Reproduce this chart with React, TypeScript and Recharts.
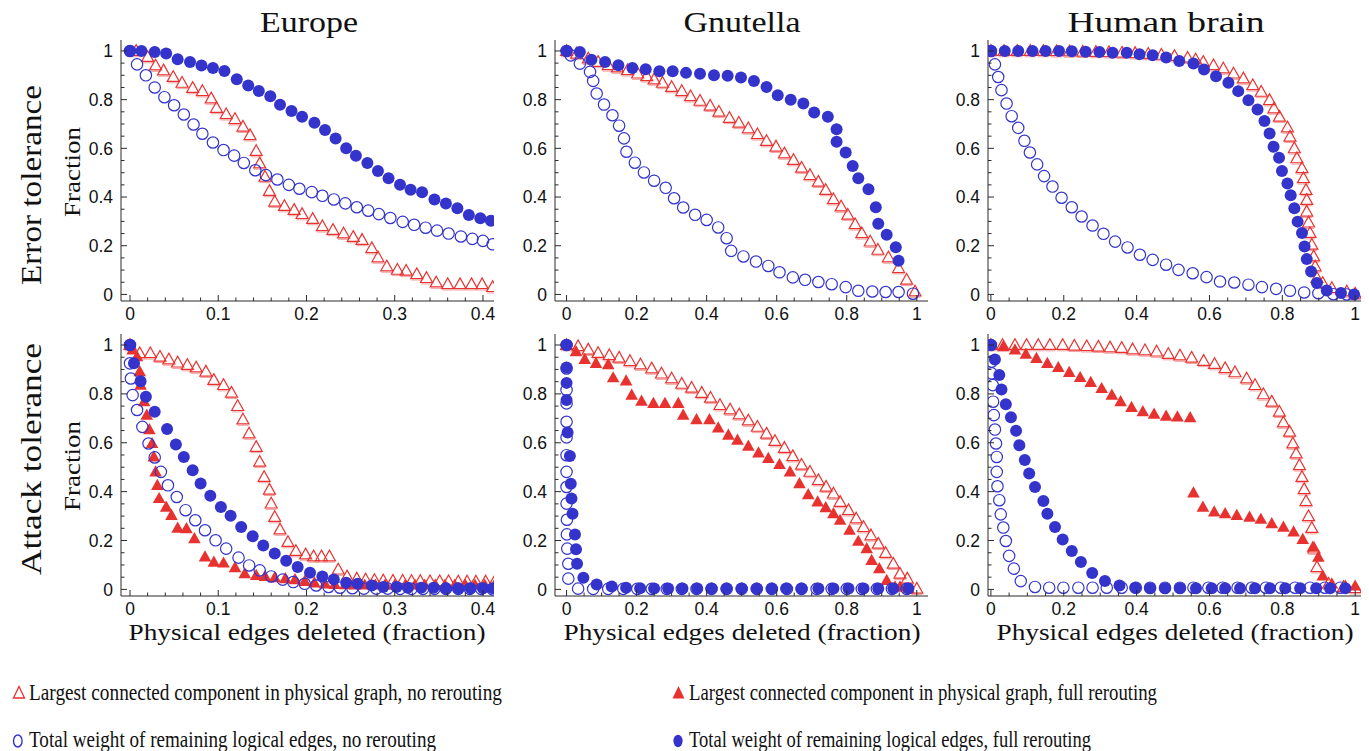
import React from 'react';
import { ScatterChart, Scatter, XAxis, YAxis } from 'recharts';

type Pt = [number, number];

const RED = '#e8322f';
const BLUE = '#3434cc';
const FRAME = '#2a2a2a';
const SERIF = '"Liberation Serif", "DejaVu Serif", serif';
const SANS = '"Liberation Sans", Arial, sans-serif';

// ---------- Europe, error tolerance
const euErrLccNo: Pt[] = [
  [0.007, 1.0], [0.02, 0.975], [0.029, 0.94], [0.038, 0.92], [0.049, 0.893], [0.059, 0.869], [0.071, 0.848],
  [0.082, 0.835], [0.092, 0.805], [0.098, 0.766], [0.109, 0.74], [0.119, 0.72], [0.128, 0.689], [0.136, 0.654],
  [0.143, 0.589], [0.147, 0.538], [0.153, 0.483], [0.158, 0.425], [0.164, 0.381], [0.175, 0.363], [0.186, 0.347],
  [0.195, 0.33], [0.207, 0.31], [0.218, 0.28], [0.23, 0.265], [0.242, 0.25], [0.253, 0.236], [0.263, 0.224],
  [0.274, 0.19], [0.281, 0.152], [0.291, 0.115], [0.303, 0.101], [0.313, 0.097], [0.325, 0.083], [0.336, 0.067],
  [0.347, 0.049], [0.36, 0.042], [0.374, 0.042], [0.387, 0.042], [0.399, 0.042], [0.411, 0.03],
];
const euErrWNo: Pt[] = [
  [0, 1.0], [0.008, 0.945], [0.018, 0.9], [0.028, 0.85], [0.039, 0.81], [0.05, 0.777], [0.061, 0.739],
  [0.072, 0.698], [0.082, 0.66], [0.094, 0.624], [0.106, 0.593], [0.118, 0.57], [0.129, 0.54], [0.142, 0.51],
  [0.154, 0.49], [0.167, 0.472], [0.18, 0.45], [0.192, 0.434], [0.206, 0.42], [0.218, 0.405], [0.231, 0.39],
  [0.244, 0.374], [0.257, 0.358], [0.27, 0.344], [0.282, 0.33], [0.295, 0.314], [0.309, 0.298], [0.322, 0.286],
  [0.335, 0.274], [0.348, 0.262], [0.361, 0.25], [0.375, 0.238], [0.388, 0.228], [0.4, 0.22], [0.411, 0.206],
];
const euErrWFull: Pt[] = [
  [0, 1.0], [0.013, 1.0], [0.028, 0.996], [0.041, 0.99], [0.054, 0.966], [0.068, 0.955], [0.081, 0.94],
  [0.094, 0.93], [0.107, 0.918], [0.121, 0.884], [0.134, 0.858], [0.146, 0.836], [0.159, 0.814], [0.17, 0.779],
  [0.183, 0.753], [0.195, 0.73], [0.209, 0.705], [0.221, 0.675], [0.233, 0.64], [0.245, 0.6], [0.256, 0.57],
  [0.269, 0.54], [0.281, 0.507], [0.293, 0.477], [0.306, 0.45], [0.318, 0.43], [0.331, 0.42], [0.345, 0.39],
  [0.358, 0.373], [0.371, 0.354], [0.384, 0.326], [0.397, 0.313], [0.409, 0.303],
];

// ---------- Gnutella, error tolerance
const gnErrLccNo: Pt[] = [
  [0, 1.0], [0.029, 0.989], [0.062, 0.969], [0.09, 0.955], [0.119, 0.941], [0.145, 0.932], [0.174, 0.921],
  [0.203, 0.907], [0.229, 0.896], [0.25, 0.883], [0.274, 0.869], [0.3, 0.852], [0.329, 0.835], [0.354, 0.814],
  [0.381, 0.795], [0.41, 0.775], [0.435, 0.75], [0.465, 0.725], [0.492, 0.705], [0.519, 0.682], [0.545, 0.658],
  [0.571, 0.63], [0.598, 0.607], [0.622, 0.579], [0.648, 0.552], [0.671, 0.52], [0.695, 0.49], [0.719, 0.463],
  [0.74, 0.429], [0.762, 0.391], [0.784, 0.361], [0.803, 0.327], [0.824, 0.288], [0.843, 0.251], [0.867, 0.217],
  [0.889, 0.183], [0.919, 0.152], [0.948, 0.108], [0.971, 0.06], [0.995, 0.012],
];
const gnErrWNo: Pt[] = [
  [0, 1.0], [0.012, 0.982], [0.038, 0.948], [0.067, 0.914], [0.076, 0.877], [0.086, 0.825], [0.107, 0.78],
  [0.131, 0.736], [0.15, 0.693], [0.164, 0.641], [0.171, 0.586], [0.195, 0.541], [0.221, 0.501], [0.25, 0.467],
  [0.283, 0.438], [0.307, 0.395], [0.333, 0.357], [0.367, 0.327], [0.4, 0.306], [0.433, 0.275], [0.457, 0.231],
  [0.47, 0.179], [0.505, 0.156], [0.541, 0.135], [0.576, 0.117], [0.608, 0.091], [0.646, 0.07], [0.681, 0.06],
  [0.719, 0.051], [0.757, 0.042], [0.797, 0.03], [0.833, 0.015], [0.873, 0.012], [0.911, 0.01], [0.948, 0.01],
  [0.989, 0.003],
];
const gnErrWFull: Pt[] = [
  [0, 1.0], [0.038, 0.996], [0.071, 0.964], [0.11, 0.955], [0.148, 0.941], [0.188, 0.93], [0.226, 0.925],
  [0.265, 0.917], [0.303, 0.917], [0.341, 0.91], [0.381, 0.906], [0.421, 0.9], [0.46, 0.898], [0.498, 0.891],
  [0.535, 0.877], [0.571, 0.852], [0.603, 0.818], [0.64, 0.8], [0.676, 0.784], [0.707, 0.747], [0.746, 0.73],
  [0.771, 0.678], [0.771, 0.627], [0.797, 0.583], [0.817, 0.527], [0.833, 0.477], [0.862, 0.432], [0.883, 0.358],
  [0.89, 0.29], [0.914, 0.245], [0.94, 0.194], [0.948, 0.138],
];

// ---------- Human brain, error tolerance
const huErrLccNo: Pt[] = [
  [0, 1.0], [0.036, 1.0], [0.072, 1.0], [0.108, 1.0], [0.144, 1.0], [0.18, 0.999], [0.216, 0.998],
  [0.252, 0.997], [0.288, 0.996], [0.324, 0.995], [0.36, 0.993], [0.396, 0.991], [0.432, 0.988], [0.468, 0.984],
  [0.504, 0.979], [0.54, 0.972], [0.562, 0.965], [0.583, 0.955], [0.611, 0.941], [0.638, 0.928], [0.666, 0.907],
  [0.693, 0.887], [0.719, 0.859], [0.742, 0.832], [0.765, 0.798], [0.777, 0.764], [0.792, 0.73], [0.814, 0.686],
  [0.821, 0.648], [0.833, 0.6], [0.84, 0.559], [0.854, 0.518], [0.858, 0.477], [0.865, 0.429], [0.867, 0.388],
  [0.867, 0.34], [0.872, 0.295], [0.876, 0.252], [0.881, 0.204], [0.886, 0.156], [0.89, 0.115], [0.895, 0.067],
  [0.911, 0.047], [0.936, 0.026], [0.977, 0.012], [1.0, 0.003],
];
const huErrWNo: Pt[] = [
  [0, 1.0], [0.011, 0.945], [0.02, 0.893], [0.029, 0.839], [0.043, 0.784], [0.057, 0.732], [0.075, 0.684],
  [0.092, 0.631], [0.107, 0.583], [0.127, 0.534], [0.146, 0.486], [0.169, 0.443], [0.194, 0.397], [0.222, 0.358],
  [0.249, 0.32], [0.279, 0.283], [0.309, 0.249], [0.341, 0.217], [0.375, 0.193], [0.409, 0.163], [0.444, 0.142],
  [0.481, 0.122], [0.515, 0.101], [0.554, 0.087], [0.592, 0.071], [0.629, 0.053], [0.668, 0.049], [0.707, 0.04],
  [0.744, 0.03], [0.783, 0.023], [0.821, 0.015], [0.86, 0.008], [0.899, 0.005], [0.94, 0.001], [0.977, 0],
];
const huErrWFull: Pt[] = [
  [0, 1.0], [0.038, 1.0], [0.075, 1.0], [0.114, 1.0], [0.15, 1.0], [0.187, 1.0], [0.222, 0.999], [0.26, 0.997],
  [0.298, 0.996], [0.334, 0.993], [0.373, 0.993], [0.408, 0.986], [0.444, 0.982], [0.481, 0.973], [0.517, 0.959],
  [0.556, 0.948], [0.585, 0.924], [0.618, 0.896], [0.652, 0.869], [0.679, 0.835], [0.707, 0.798], [0.732, 0.76],
  [0.751, 0.712], [0.765, 0.661], [0.776, 0.607], [0.791, 0.561], [0.799, 0.507], [0.814, 0.456], [0.823, 0.407],
  [0.833, 0.354], [0.842, 0.299], [0.854, 0.252], [0.861, 0.197], [0.867, 0.145], [0.879, 0.094], [0.895, 0.047],
  [0.922, 0.016], [0.961, 0.006], [0.997, 0.0],
];

// ---------- Europe, attack tolerance
const euAtkLccNo: Pt[] = [
  [0, 1.0], [0.011, 0.966], [0.023, 0.966], [0.034, 0.952], [0.044, 0.941], [0.054, 0.928], [0.065, 0.918],
  [0.075, 0.908], [0.086, 0.891], [0.095, 0.857], [0.106, 0.836], [0.115, 0.805], [0.122, 0.75], [0.128, 0.695],
  [0.135, 0.638], [0.143, 0.583], [0.147, 0.522], [0.152, 0.46], [0.158, 0.408], [0.16, 0.351], [0.164, 0.296],
  [0.17, 0.245], [0.179, 0.194], [0.188, 0.157], [0.199, 0.143], [0.208, 0.135], [0.217, 0.135], [0.226, 0.135],
  [0.236, 0.081], [0.246, 0.053], [0.257, 0.044], [0.267, 0.04], [0.277, 0.038], [0.287, 0.036], [0.298, 0.035],
  [0.309, 0.035], [0.319, 0.034], [0.329, 0.034], [0.34, 0.033], [0.351, 0.033], [0.361, 0.033], [0.372, 0.032],
  [0.382, 0.032], [0.392, 0.032], [0.403, 0.032], [0.413, 0.031],
];
const euAtkLccFull: Pt[] = [
  [0, 1.0], [0.003, 0.98], [0.008, 0.952], [0.011, 0.891], [0.012, 0.836], [0.016, 0.768], [0.019, 0.713],
  [0.022, 0.654], [0.025, 0.597], [0.027, 0.542], [0.029, 0.481], [0.031, 0.426], [0.033, 0.372], [0.041, 0.337],
  [0.047, 0.303], [0.054, 0.251], [0.064, 0.249], [0.073, 0.208], [0.085, 0.133], [0.095, 0.112], [0.106, 0.108],
  [0.119, 0.089], [0.13, 0.064], [0.143, 0.057], [0.153, 0.053], [0.164, 0.048], [0.176, 0.044], [0.187, 0.04],
  [0.198, 0.033], [0.209, 0.027], [0.221, 0.023], [0.232, 0.02], [0.244, 0.019], [0.255, 0.018], [0.266, 0.018],
  [0.278, 0.018], [0.289, 0.018], [0.3, 0.018], [0.312, 0.018], [0.323, 0.018], [0.334, 0.018], [0.346, 0.018],
  [0.357, 0.018], [0.368, 0.018], [0.38, 0.018], [0.391, 0.018], [0.402, 0.018], [0.413, 0.018],
];
const euAtkWNo: Pt[] = [
  [0, 1.0], [0, 0.925], [0.001, 0.863], [0.003, 0.795], [0.008, 0.734], [0.014, 0.665], [0.021, 0.597],
  [0.028, 0.54], [0.035, 0.481], [0.043, 0.426], [0.053, 0.378], [0.063, 0.324], [0.074, 0.283], [0.085, 0.242],
  [0.097, 0.201], [0.109, 0.167], [0.123, 0.13], [0.135, 0.098], [0.147, 0.078], [0.16, 0.053], [0.173, 0.04],
  [0.185, 0.03], [0.198, 0.023], [0.211, 0.016], [0.225, 0.01], [0.238, 0.007], [0.252, 0.005], [0.265, 0.003],
  [0.279, 0.003], [0.292, 0.003], [0.306, 0.002], [0.319, 0.002], [0.332, 0.002], [0.345, 0.002], [0.358, 0.002],
  [0.372, 0.002], [0.385, 0.002], [0.398, 0.002], [0.411, 0.0],
];
const euAtkWFull: Pt[] = [
  [0, 1.0], [0.0045, 0.925], [0.012, 0.852], [0.018, 0.788], [0.028, 0.727], [0.042, 0.656], [0.052, 0.593],
  [0.061, 0.542], [0.071, 0.488], [0.08, 0.433], [0.091, 0.383], [0.103, 0.337], [0.114, 0.301], [0.126, 0.255],
  [0.139, 0.217], [0.151, 0.18], [0.164, 0.147], [0.177, 0.117], [0.19, 0.092], [0.204, 0.068], [0.218, 0.053],
  [0.231, 0.041], [0.245, 0.027], [0.258, 0.023], [0.274, 0.016], [0.287, 0.01], [0.302, 0.01], [0.315, 0.007],
  [0.33, 0.007], [0.344, 0.007], [0.358, 0.005], [0.372, 0.005], [0.386, 0.005], [0.4, 0.005], [0.411, 0.005],
];

// ---------- Gnutella, attack tolerance
const gnAtkLccNo: Pt[] = [
  [0, 1.0], [0.033, 0.995], [0.062, 0.981], [0.09, 0.967], [0.122, 0.958], [0.15, 0.948], [0.181, 0.934],
  [0.211, 0.92], [0.243, 0.904], [0.271, 0.883], [0.3, 0.863], [0.329, 0.841], [0.357, 0.825], [0.386, 0.804],
  [0.411, 0.784], [0.438, 0.754], [0.467, 0.736], [0.493, 0.716], [0.519, 0.691], [0.545, 0.665], [0.571, 0.637],
  [0.595, 0.607], [0.622, 0.579], [0.646, 0.545], [0.671, 0.51], [0.695, 0.481], [0.719, 0.447], [0.741, 0.42],
  [0.762, 0.392], [0.781, 0.358], [0.805, 0.324], [0.827, 0.29], [0.848, 0.255], [0.869, 0.221], [0.89, 0.187],
  [0.911, 0.149], [0.933, 0.105], [0.952, 0.064], [0.973, 0.044], [1.0, 0.003],
];
const gnAtkLccFull: Pt[] = [
  [0, 1.0], [0.027, 0.973], [0.052, 0.941], [0.084, 0.925], [0.119, 0.92], [0.133, 0.866], [0.17, 0.853],
  [0.186, 0.795], [0.214, 0.77], [0.248, 0.761], [0.281, 0.761], [0.319, 0.761], [0.333, 0.713], [0.371, 0.695],
  [0.408, 0.695], [0.433, 0.661], [0.462, 0.631], [0.488, 0.611], [0.519, 0.586], [0.548, 0.559], [0.576, 0.536],
  [0.608, 0.511], [0.638, 0.481], [0.665, 0.433], [0.69, 0.388], [0.717, 0.358], [0.74, 0.335], [0.762, 0.31],
  [0.781, 0.283], [0.808, 0.242], [0.833, 0.197], [0.857, 0.167], [0.871, 0.119], [0.893, 0.085], [0.914, 0.037],
  [0.938, 0.01], [0.952, 0.01], [0.976, 0.003],
];
const gnAtkWNo: Pt[] = [
  [0, 1.0], [0, 0.904], [0, 0.816], [0, 0.761], [0, 0.686], [0, 0.622], [0, 0.549], [0, 0.481], [0, 0.419],
  [0, 0.351], [0.001, 0.285], [0.001, 0.225], [0.002, 0.167], [0.005, 0.105], [0.005, 0.044], [0.033, 0.003],
  [0.076, 0.002], [0.119, 0.002], [0.162, 0.002], [0.202, 0.002], [0.243, 0.002], [0.286, 0.002], [0.329, 0.002],
  [0.371, 0.002], [0.414, 0.002], [0.457, 0.002], [0.5, 0.002], [0.543, 0.002], [0.586, 0.002], [0.629, 0.002],
  [0.671, 0.002], [0.714, 0.002], [0.757, 0.002], [0.8, 0.002], [0.843, 0.002], [0.886, 0.002], [0.929, 0.002],
  [0.971, 0.002],
];
const gnAtkWFull: Pt[] = [
  [0, 1.0], [0, 0.908], [0, 0.845], [0, 0.775], [0.003, 0.642], [0.0095, 0.546], [0.012, 0.432], [0.014, 0.372],
  [0.017, 0.31], [0.024, 0.225], [0.027, 0.164], [0.03, 0.105], [0.048, 0.048], [0.086, 0.02], [0.129, 0.012],
  [0.17, 0.007], [0.21, 0.005], [0.25, 0.004], [0.29, 0.004], [0.331, 0.004], [0.373, 0.004], [0.414, 0.004],
  [0.457, 0.004], [0.5, 0.004], [0.543, 0.004], [0.586, 0.004], [0.627, 0.004], [0.671, 0.004], [0.719, 0.004],
  [0.762, 0.004], [0.805, 0.004], [0.848, 0.004], [0.89, 0.004], [0.933, 0.004], [0.976, 0.004],
];

// ---------- Human brain, attack tolerance
const huAtkLccNo: Pt[] = [
  [0, 1.0], [0.032, 1.0], [0.066, 1.0], [0.098, 1.0], [0.13, 1.0], [0.162, 1.0], [0.197, 1.0], [0.229, 0.997],
  [0.263, 0.995], [0.295, 0.993], [0.327, 0.99], [0.359, 0.988], [0.389, 0.982], [0.423, 0.978], [0.455, 0.973],
  [0.487, 0.963], [0.519, 0.957], [0.551, 0.948], [0.584, 0.935], [0.614, 0.922], [0.643, 0.905], [0.67, 0.888],
  [0.702, 0.863], [0.725, 0.836], [0.748, 0.798], [0.771, 0.768], [0.792, 0.727], [0.803, 0.683], [0.82, 0.645],
  [0.829, 0.597], [0.838, 0.556], [0.847, 0.508], [0.854, 0.46], [0.86, 0.41], [0.865, 0.361], [0.872, 0.299],
  [0.881, 0.251], [0.887, 0.167], [0.895, 0.091], [0.927, 0.023], [0.968, 0.01], [1.0, 0.005],
];
const huAtkLccFull: Pt[] = [
  [0, 1.0], [0.034, 0.993], [0.066, 0.98], [0.096, 0.963], [0.125, 0.945], [0.155, 0.925], [0.185, 0.908],
  [0.215, 0.888], [0.245, 0.867], [0.274, 0.847], [0.304, 0.822], [0.332, 0.795], [0.356, 0.768], [0.386, 0.745],
  [0.417, 0.727], [0.448, 0.717], [0.481, 0.709], [0.512, 0.706], [0.547, 0.703], [0.556, 0.395], [0.582, 0.337],
  [0.613, 0.317], [0.643, 0.31], [0.675, 0.303], [0.71, 0.296], [0.741, 0.287], [0.771, 0.269], [0.803, 0.255],
  [0.831, 0.235], [0.856, 0.205], [0.884, 0.173], [0.899, 0.132], [0.911, 0.055], [0.936, 0.023], [0.973, 0.014],
  [1.0, 0.014],
];
const huAtkWNo: Pt[] = [
  [0, 1.0], [0.002, 0.932], [0.002, 0.884], [0.005, 0.836], [0.006, 0.768], [0.008, 0.713], [0.011, 0.654],
  [0.014, 0.597], [0.016, 0.542], [0.016, 0.481], [0.018, 0.422], [0.023, 0.365], [0.027, 0.307], [0.034, 0.253],
  [0.041, 0.198], [0.05, 0.137], [0.063, 0.085], [0.082, 0.034], [0.121, 0.01], [0.16, 0.007], [0.199, 0.007],
  [0.24, 0.007], [0.279, 0.007], [0.318, 0.007], [0.359, 0.007], [0.398, 0.007], [0.437, 0.007], [0.478, 0.007],
  [0.519, 0.007], [0.556, 0.007], [0.597, 0.007], [0.636, 0.007], [0.677, 0.007], [0.716, 0.007], [0.755, 0.007],
  [0.796, 0.007], [0.835, 0.007], [0.876, 0.007], [0.917, 0.007], [0.959, 0.007],
];
const huAtkWFull: Pt[] = [
  [0, 1.0], [0.011, 0.941], [0.023, 0.877], [0.029, 0.818], [0.041, 0.758], [0.055, 0.704], [0.069, 0.649],
  [0.078, 0.59], [0.093, 0.529], [0.105, 0.474], [0.121, 0.419], [0.144, 0.362], [0.155, 0.31], [0.176, 0.255],
  [0.197, 0.204], [0.222, 0.157], [0.247, 0.112], [0.278, 0.067], [0.313, 0.034], [0.353, 0.016], [0.396, 0.007],
  [0.437, 0.005], [0.478, 0.005], [0.519, 0.005], [0.563, 0.005], [0.606, 0.005], [0.643, 0.005], [0.684, 0.005],
  [0.725, 0.005], [0.766, 0.005], [0.808, 0.005], [0.849, 0.005], [0.893, 0.005], [0.931, 0.005], [0.973, 0.005],
];

const TITLES = ['Europe', 'Gnutella', 'Human brain'];
const ROW_LABELS = ['Error tolerance', 'Attack tolerance'];
const X_TITLE = 'Physical edges deleted (fraction)';
const LEGEND = [
  'Largest connected component in physical graph, no rerouting',
  'Largest connected component in physical graph, full rerouting',
  'Total weight of remaining logical edges, no rerouting',
  'Total weight of remaining logical edges, full rerouting',
];

// ---------- markers
const OpenTri = (p: any) => {
  const { cx, cy } = p;
  return (
    <g>
      <path d={`M${cx},${cy - 6.3}L${cx + 6},${cy + 4.4}L${cx - 6},${cy + 4.4}Z`} fill="none" stroke={RED} strokeWidth={1.2} />
      <line x1={cx - 5.6} x2={cx + 5.6} y1={cy + 5.8} y2={cy + 5.8} stroke="#f2a0a0" strokeWidth={1} />
    </g>
  );
};
const FullTri = (p: any) => {
  const { cx, cy } = p;
  return <path d={`M${cx},${cy - 6.6}L${cx + 6.3},${cy + 4.6}L${cx - 6.3},${cy + 4.6}Z`} fill={RED} />;
};
const OpenCirc = (p: any) => <circle cx={p.cx} cy={p.cy} r={5.7} fill="none" stroke={BLUE} strokeWidth={1.2} />;
const FullCirc = (p: any) => <circle cx={p.cx} cy={p.cy} r={6} fill={BLUE} />;

// ---------- axes helpers
const Y_DOMAIN: [number, number] = [-0.027, 1.045];
const Y_MAJOR = [0, 0.2, 0.4, 0.6, 0.8, 1];

const stepTicks = (step: number, max: number) => {
  const out: number[] = [];
  for (let i = 0; i * step <= max + 1e-9; i++) out.push(+(i * step).toFixed(4));
  return out;
};
const isMajor = (v: number, major: number[]) => major.some((m) => Math.abs(m - v) < 1e-6);
const fmt = (v: number) => String(+v.toFixed(2));

const tickText = { fontFamily: SANS, fontSize: 17.5, fill: '#111' };

const bottomTick = (major: number[]) => (p: any) => {
  const v = p.payload.value;
  const mj = isMajor(v, major);
  return (
    <g>
      <line x1={p.x} x2={p.x} y1={p.y} y2={p.y - (mj ? 6 : 3.5)} stroke={FRAME} />
      {mj && (
        <text x={p.x} y={p.y + 19} textAnchor="middle" {...tickText}>
          {fmt(v)}
        </text>
      )}
    </g>
  );
};
const topTick = (major: number[]) => (p: any) => {
  const mj = isMajor(p.payload.value, major);
  return <line x1={p.x} x2={p.x} y1={p.y} y2={p.y + (mj ? 6 : 3.5)} stroke={FRAME} />;
};
const leftTick = (p: any) => {
  const v = p.payload.value;
  const mj = isMajor(v, Y_MAJOR);
  return (
    <g>
      <line x1={p.x} x2={p.x + (mj ? 6 : 3.5)} y1={p.y} y2={p.y} stroke={FRAME} />
      {mj && (
        <text x={p.x - 8} y={p.y} dy="0.36em" textAnchor="end" {...tickText}>
          {fmt(v)}
        </text>
      )}
    </g>
  );
};
const rightTick = (p: any) => {
  const mj = isMajor(p.payload.value, Y_MAJOR);
  return <line x1={p.x} x2={p.x - (mj ? 6 : 3.5)} y1={p.y} y2={p.y} stroke={FRAME} />;
};

type Series = { data: Pt[]; shape: any };
type PanelCfg = {
  left: number;
  top: number;
  w: number;
  h: number;
  xDomain: [number, number];
  xMajor: number[];
  xMinorStep: number;
  xMax: number;
  series: Series[];
};

const AXIS_W = 45;
const AXIS_H = 28;

const Panel = ({ cfg }: { cfg: PanelCfg }) => {
  const xTicks = stepTicks(cfg.xMinorStep, cfg.xMax);
  const yTicks = stepTicks(0.05, 1);
  const common = { type: 'number' as const, allowDataOverflow: true, interval: 0 as const, tickSize: 0, tickMargin: 0, tickLine: false, axisLine: { stroke: FRAME, strokeWidth: 1 } };
  return (
    <div style={{ position: 'absolute', left: cfg.left - AXIS_W, top: cfg.top - 2 }}>
      <ScatterChart width={AXIS_W + cfg.w + 2} height={2 + cfg.h + AXIS_H} margin={{ top: 2, right: 2, left: 0, bottom: 0 }}>
        <XAxis {...common} xAxisId={0} dataKey="x" domain={cfg.xDomain} ticks={xTicks} height={AXIS_H} tick={bottomTick(cfg.xMajor)} />
        <XAxis {...common} xAxisId="top" orientation="top" dataKey="x" domain={cfg.xDomain} ticks={xTicks} height={0} tick={topTick(cfg.xMajor)} />
        <YAxis {...common} yAxisId={0} dataKey="y" domain={Y_DOMAIN} ticks={yTicks} width={AXIS_W} tick={leftTick} />
        <YAxis {...common} yAxisId="right" orientation="right" dataKey="y" domain={Y_DOMAIN} ticks={yTicks} width={0} tick={rightTick} />
        {cfg.series.map((s, i) => (
          <Scatter
            key={i}
            xAxisId={0}
            yAxisId={0}
            data={s.data.map(([x, y]) => ({ x, y }))}
            shape={s.shape}
            isAnimationActive={false}
          />
        ))}
      </ScatterChart>
    </div>
  );
};

const COLS = [
  { left: 121, w: 373, xDomain: [-0.0102, 0.4125] as [number, number], xMajor: [0, 0.1, 0.2, 0.3, 0.4], xMinorStep: 0.02, xMax: 0.4 },
  { left: 555, w: 373, xDomain: [-0.033, 1.032] as [number, number], xMajor: [0, 0.2, 0.4, 0.6, 0.8, 1], xMinorStep: 0.05, xMax: 1 },
  { left: 988, w: 373, xDomain: [-0.008, 1.016] as [number, number], xMajor: [0, 0.2, 0.4, 0.6, 0.8, 1], xMinorStep: 0.05, xMax: 1 },
];
const ROWS = [
  { top: 40, h: 261 },
  { top: 334, h: 262 },
];

const PANELS: PanelCfg[] = [
  { ...COLS[0], ...ROWS[0], series: [{ data: euErrLccNo, shape: OpenTri }, { data: euErrWNo, shape: OpenCirc }, { data: euErrWFull, shape: FullCirc }] },
  { ...COLS[1], ...ROWS[0], series: [{ data: gnErrLccNo, shape: OpenTri }, { data: gnErrWNo, shape: OpenCirc }, { data: gnErrWFull, shape: FullCirc }] },
  { ...COLS[2], ...ROWS[0], series: [{ data: huErrLccNo, shape: OpenTri }, { data: huErrWNo, shape: OpenCirc }, { data: huErrWFull, shape: FullCirc }] },
  { ...COLS[0], ...ROWS[1], series: [{ data: euAtkLccNo, shape: OpenTri }, { data: euAtkLccFull, shape: FullTri }, { data: euAtkWNo, shape: OpenCirc }, { data: euAtkWFull, shape: FullCirc }] },
  { ...COLS[1], ...ROWS[1], series: [{ data: gnAtkLccNo, shape: OpenTri }, { data: gnAtkLccFull, shape: FullTri }, { data: gnAtkWNo, shape: OpenCirc }, { data: gnAtkWFull, shape: FullCirc }] },
  { ...COLS[2], ...ROWS[1], series: [{ data: huAtkLccNo, shape: OpenTri }, { data: huAtkLccFull, shape: FullTri }, { data: huAtkWNo, shape: OpenCirc }, { data: huAtkWFull, shape: FullCirc }] },
];

// stretched serif text, so Liberation Serif takes the width of the original Computer Modern
const serif = (size: number, len: number) => ({
  fontFamily: SERIF,
  fontSize: size,
  fill: '#111',
  textLength: len,
  lengthAdjust: 'spacingAndGlyphs' as const,
});

const Labels = () => (
  <svg width={1369} height={751} style={{ position: 'absolute', left: 0, top: 0 }}>
    {/* column titles */}
    <text x={309} y={32} textAnchor="middle" {...serif(29, 98)}>{TITLES[0]}</text>
    <text x={742} y={32} textAnchor="middle" {...serif(29, 117)}>{TITLES[1]}</text>
    <text x={1166} y={32} textAnchor="middle" {...serif(29, 197)}>{TITLES[2]}</text>

    {/* row labels */}
    <text transform="translate(41,185) rotate(-90)" textAnchor="middle" {...serif(30, 200)}>{ROW_LABELS[0]}</text>
    <text transform="translate(41,459) rotate(-90)" textAnchor="middle" {...serif(30, 232)}>{ROW_LABELS[1]}</text>

    {/* y titles */}
    <text transform="translate(80,172) rotate(-90)" textAnchor="middle" {...serif(23, 90)}>Fraction</text>
    <text transform="translate(80,466) rotate(-90)" textAnchor="middle" {...serif(23, 90)}>Fraction</text>

    {/* x titles */}
    {[307, 742, 1175].map((cx) => (
      <text key={cx} x={cx} y={640} textAnchor="middle" {...serif(23, 357)}>{X_TITLE}</text>
    ))}

    {/* legend */}
    <path d="M19,686.5L24.5,698L13.5,698Z" fill="none" stroke={RED} strokeWidth={1.3} />
    <text x={29} y={700} {...serif(23.5, 473)}>{LEGEND[0]}</text>
    <path d="M678.5,686L684.5,698.5L672.5,698.5Z" fill={RED} />
    <text x={689} y={700} {...serif(23.5, 468)}>{LEGEND[1]}</text>
    <ellipse cx={17.8} cy={741} rx={4.3} ry={6} fill="none" stroke={BLUE} strokeWidth={1.4} />
    <text x={29} y={747} {...serif(23.5, 407)}>{LEGEND[2]}</text>
    <ellipse cx={678} cy={741} rx={4.6} ry={6.2} fill={BLUE} />
    <text x={689} y={747} {...serif(23.5, 402)}>{LEGEND[3]}</text>
  </svg>
);

export default function App() {
  return (
    <div style={{ position: 'absolute', left: 0, top: 0, width: 1369, height: 751, background: '#fff', overflow: 'hidden' }}>
      <Labels />
      {PANELS.map((p, i) => (
        <Panel key={i} cfg={p} />
      ))}
    </div>
  );
}
